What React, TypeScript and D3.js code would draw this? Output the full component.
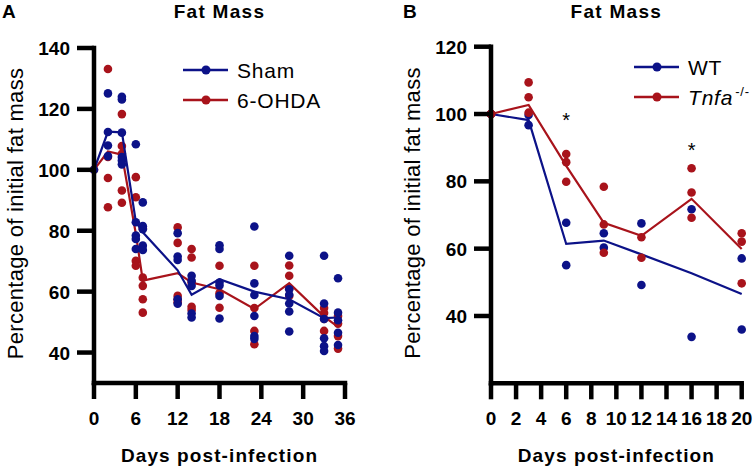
import React from 'react';
import * as d3 from 'd3';

const BLUE = '#0c1288';
const RED = '#a8131b';
const FONT = "'Liberation Sans', Arial, Helvetica, sans-serif";

// ---------- Panel A data ----------
const daysA = [0, 2, 4, 6, 7, 12, 14, 18, 23, 28, 33, 35];
const shamPoints: number[][] = [
  [100],
  [125.1, 112.4, 108.0, 104.5],
  [124.0, 123.1, 112.2, 104.2, 103.1, 101.8],
  [108.4, 82.8, 78.4, 77.3, 74.0],
  [89.3, 81.5, 80.5, 75.1, 73.7],
  [79.2, 71.5, 70.4, 57.5, 56.0],
  [65.2, 63.6, 61.9, 52.8, 51.5],
  [75.2, 74.0, 63.0, 62.0, 58.6, 51.2],
  [81.4, 62.7, 58.9, 52.0, 45.4, 44.5],
  [71.8, 60.8, 59.0, 56.1, 53.5, 46.9],
  [71.8, 56.1, 51.0, 44.7, 42.1, 40.5],
  [64.4, 53.1, 50.6, 46.5, 42.5],
];
const ohdaPoints: number[][] = [
  [100],
  [133.1, 104.2, 97.3, 87.7],
  [118.3, 107.8, 105.3, 93.2, 89.2],
  [97.6, 91.0, 70.1, 68.5],
  [80.8, 64.6, 61.9, 57.5, 53.1],
  [81.1, 76.0, 58.6, 57.5, 56.5],
  [74.0, 71.2, 63.0, 55.0, 54.0],
  [68.5, 59.5, 54.7],
  [68.5, 54.6, 47.1, 42.7],
  [68.6, 65.2, 61.0, 58.6],
  [54.6, 53.0, 51.0, 47.1],
  [52.0, 49.5, 45.4, 41.3],
];
const shamMean = [100, 112.5, 112.3, 83, 79.5, 67, 59, 64.1, 60, 57.5, 51.3, 51.5];
const ohdaMean = [100, 106, 105, 79, 63.6, 66.1, 63, 60.8, 54.3, 62.8, 51.8, 48.4];
const xTicksA = [0, 6, 12, 18, 24, 30, 36];
const yTicksA = [40, 60, 80, 100, 120, 140];
const seriesA = ['Sham', '6-OHDA'];

// ---------- Panel B data ----------
const daysB = [0, 3, 6, 9, 12, 16, 20];
const wtPoints: number[][] = [
  [100, 100],
  [99.7, 96.7],
  [67.7, 55.1],
  [64.6, 60.3],
  [67.5, 49.2],
  [71.7, 33.8],
  [57.1, 36.0],
];
const tnfPoints: number[][] = [
  [100, 100, 100],
  [109.4, 105.0, 100.4],
  [88.1, 85.7, 79.9],
  [78.4, 67.2, 58.8],
  [63.4, 57.3],
  [83.9, 76.7, 69.2],
  [64.6, 62.1, 49.7],
];
const wtMean = [100, 98.2, 61.4, 62.4, 58.3, 52.7, 46.5];
const tnfMean = [100, 102.7, 84.6, 67.7, 63.8, 74.8, 59.9];
const xTicksB = [0, 2, 4, 6, 8, 10, 12, 14, 16, 18, 20];
const yTicksB = [40, 60, 80, 100, 120];
const starDaysB = [6, 16];
const starValuesB = [99.4, 90.5];

const AXW = 4.5;
const R = 4.3;

type Series = { points: number[][]; mean: number[]; color: string };

function Panel(props: {
  letter: string;
  letterX: number;
  x: d3.ScaleLinear<number, number>;
  y: d3.ScaleLinear<number, number>;
  days: number[];
  xTicks: number[];
  yTicks: number[];
  series: Series[];
  legendX: number;
  legendY: number;
  legendLabels: React.ReactNode[];
  legendColors: string[];
  stars?: { day: number; v: number }[];
}) {
  const { x, y, days, xTicks, yTicks, series } = props;
  const [x0, x1] = x.range();
  const [yb, yt] = y.range();
  const cx = (x0 + x1) / 2;
  const line = d3
    .line<number>()
    .x((_, i) => x(days[i]))
    .y((d) => y(d));
  return (
    <g>
      <text x={props.letterX} y={18} fontFamily={FONT} fontWeight="bold" fontSize={19}>
        {props.letter}
      </text>
      <text x={cx} y={18} textAnchor="middle" fontFamily={FONT} fontWeight="bold" fontSize={19} letterSpacing={1.3}>
        Fat Mass
      </text>
      {series.map((s, si) => (
        <g key={si}>
          {s.points.map((arr, di) =>
            arr.map((v, k) => <circle key={di + '-' + k} cx={x(days[di])} cy={y(v)} r={R} fill={s.color} />)
          )}
          <path d={line(s.mean) || ''} fill="none" stroke={s.color} strokeWidth={2.2} />
        </g>
      ))}
      <line x1={x0} x2={x0} y1={yt} y2={yb} stroke="#000" strokeWidth={AXW} strokeLinecap="square" />
      <line x1={x0} x2={x1} y1={yb} y2={yb} stroke="#000" strokeWidth={AXW} strokeLinecap="square" />
      {yTicks.map((t) => (
        <g key={'y' + t}>
          <line x1={x0 - 17} x2={x0} y1={y(t)} y2={y(t)} stroke="#000" strokeWidth={AXW} />
          <text x={x0 - 24} y={y(t) + 7} textAnchor="end" fontFamily={FONT} fontWeight="bold" fontSize={19}>
            {t}
          </text>
        </g>
      ))}
      {xTicks.map((t) => (
        <g key={'x' + t}>
          <line x1={x(t)} x2={x(t)} y1={yb} y2={yb + 16} stroke="#000" strokeWidth={AXW} />
          <text x={x(t)} y={425} textAnchor="middle" fontFamily={FONT} fontWeight="bold" fontSize={19}>
            {t}
          </text>
        </g>
      ))}
      <text x={cx} y={462} textAnchor="middle" fontFamily={FONT} fontWeight="bold" fontSize={19} letterSpacing={1.1}>
        Days post-infection
      </text>
      <text
        transform={`translate(${x0 - 71},${(yt + yb) / 2 - 2}) rotate(-90)`}
        textAnchor="middle"
        fontFamily={FONT}
        fontSize={22}
        letterSpacing={0.3}
      >
        Percentage of initial fat mass
      </text>
      {props.legendLabels.map((lab, i) => {
        const ly = props.legendY + i * 30;
        return (
          <g key={'lg' + i}>
            <line x1={props.legendX} x2={props.legendX + 45} y1={ly} y2={ly} stroke={props.legendColors[i]} strokeWidth={2.5} />
            <circle cx={props.legendX + 23} cy={ly} r={4.5} fill={props.legendColors[i]} />
            <text x={props.legendX + 54} y={ly + 7.5} fontFamily={FONT} fontSize={21} letterSpacing={0.8}>
              {lab}
            </text>
          </g>
        );
      })}
      {(props.stars || []).map((s, i) => (
        <text key={'st' + i} x={x(s.day)} y={y(s.v) + 11} textAnchor="middle" fontFamily={FONT} fontSize={20}>
          *
        </text>
      ))}
    </g>
  );
}

export default function App() {
  const xA = d3.scaleLinear().domain([0, 36]).range([94, 345]);
  const yA = d3.scaleLinear().domain([30, 140]).range([383, 48]);
  const xB = d3.scaleLinear().domain([0, 20]).range([491, 741.7]);
  const yB = d3.scaleLinear().domain([20, 120]).range([383.3, 46.7]);

  return (
    <svg width={753} height={471} style={{ position: 'absolute', left: 0, top: 0, background: '#fff' }}>
      <rect width={753} height={471} fill="#fff" />
      <Panel
        letter="A"
        letterX={2}
        x={xA}
        y={yA}
        days={daysA}
        xTicks={xTicksA}
        yTicks={yTicksA}
        series={[
          { points: ohdaPoints, mean: ohdaMean, color: RED },
          { points: shamPoints, mean: shamMean, color: BLUE },
        ]}
        legendX={183}
        legendY={70}
        legendLabels={[seriesA[0], seriesA[1]]}
        legendColors={[BLUE, RED]}
      />
      <Panel
        letter="B"
        letterX={403}
        x={xB}
        y={yB}
        days={daysB}
        xTicks={xTicksB}
        yTicks={yTicksB}
        series={[
          { points: wtPoints, mean: wtMean, color: BLUE },
          { points: tnfPoints, mean: tnfMean, color: RED },
        ]}
        legendX={634}
        legendY={67}
        legendLabels={[
          'WT',
          <>
            <tspan fontStyle="italic">Tnfa</tspan>
            <tspan fontSize={13} dy={-9} dx={2}>
              -/-
            </tspan>
          </>,
        ]}
        legendColors={[BLUE, RED]}
        stars={starDaysB.map((d, i) => ({ day: d, v: starValuesB[i] }))}
      />
    </svg>
  );
}
